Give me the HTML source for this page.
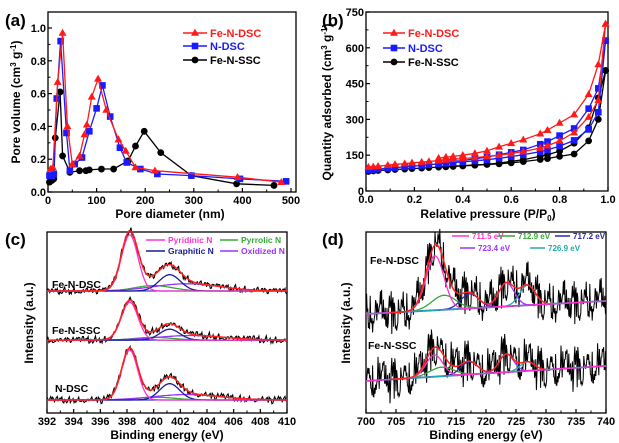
<!DOCTYPE html>
<html><head><meta charset="utf-8">
<style>
html,body{margin:0;padding:0;background:#fff;}
svg{display:block;font-family:"Liberation Sans",sans-serif;font-weight:bold;}
</style></head>
<body>
<svg id="fig" width="619" height="443" viewBox="0 0 619 443"></svg>
<script>
// ---------- Panel (a) data ----------
const aDscX=[5,10,20,30,40,50,65,75,80,90,103,120,145,160,180,220,390,480];
const aDscY=[0.14,0.15,0.67,0.97,0.40,0.17,0.22,0.35,0.41,0.58,0.69,0.50,0.32,0.25,0.15,0.13,0.09,0.06];
const aNX=[3,8,12,18,26,38,45,55,70,85,100,112,128,148,162,190,225,295,395,490];
const aNY=[0.10,0.10,0.11,0.57,0.92,0.36,0.13,0.17,0.21,0.37,0.51,0.65,0.46,0.27,0.18,0.14,0.11,0.10,0.08,0.065];
const aSscX=[3,8,12,15,25,30,45,65,78,85,110,135,165,180,198,232,295,388,465];
const aSscY=[0.06,0.07,0.08,0.33,0.61,0.22,0.12,0.13,0.13,0.135,0.14,0.14,0.19,0.28,0.37,0.24,0.10,0.05,0.04];
const aXTicks=[0,100,200,300,400,500];
const aYTicks=[0,0.2,0.4,0.6,0.8,1.0];
// ---------- Panel (b) data ----------
const bP=[0.01,0.03,0.05,0.09,0.12,0.16,0.19,0.23,0.26,0.30,0.33,0.36,0.40,0.45,0.50,0.55,0.60,0.65,0.72,0.75,0.80,0.86,0.92,0.96,0.99];
const bDscAds=[100,102,104,108,112,115,118,121,124,127,130,133,136,140,145,150,157,165,180,190,210,245,310,380,700];
const bNAds=[88,90,92,95,98,101,104,107,110,113,116,119,122,126,131,137,144,152,165,172,188,212,258,330,630];
const bSscAds=[82,84,86,88,90,92,94,96,98,100,101,103,105,108,111,114,118,123,132,136,145,155,210,300,505];
const bPd=[0.99,0.96,0.92,0.86,0.80,0.75,0.72,0.65,0.60,0.55,0.50,0.45,0.40,0.36,0.33,0.30];
const bDscDes=[700,530,405,320,285,255,240,215,200,185,168,158,150,145,142,138];
const bNDes=[630,430,345,262,232,207,196,172,162,152,142,135,128,124,120,116];
const bSscDes=[505,390,265,200,167,152,146,131,124,117,112,109,106,104,102,101];
const bXTicks=[0,0.2,0.4,0.6,0.8,1.0];
const bYTicks=[0,150,300,450,600,750];
// ---------- Panel (c) data: [center, height, sigma] ----------
const cNames=["Fe-N-DSC","Fe-N-SSC","N-DSC"];
const cBase=[67.4,40.3,7.2];
const cPyridinic=[[398.2,31,0.62],[398.2,21,0.62],[398.2,27.6,0.6]];
const cPyrrolic=[[400.0,3,1.4],[400.0,1.5,1.4],[400.2,1.5,1.4]];
const cGraphitic=[[401.2,9,0.8],[401.2,6,0.75],[401.2,9,0.75]];
const cOxidized=[[402.5,4,2.5],[402.8,2.5,2.5],[402.5,3,2.5]];
const cXTicks=[392,394,396,398,400,402,404,406,408,410];
// ---------- Panel (d) data ----------
const dNames=["Fe-N-DSC","Fe-N-SSC"];
const dBaseL=[54.7,17.7];
const dBaseR=[61.9,26.0];
const d7115=[[711.5,30,1.5],[711.4,12,1.4]];
const d7129=[[713.0,8,2.0],[712.6,5,2.0]];
const d7172=[[717.3,8,1.5],[717.2,7,1.4]];
const d7234=[[723.4,13,1.3],[723.4,10,1.2]];
const d7269=[[726.9,11,1.3],[726.9,5,1.2]];
const dXTicks=[700,705,710,715,720,725,730,735,740];
// fixed noise texture
const noise=[0.3,-0.8,0.9,-0.2,0.5,-1,0.1,0.7,-0.6,0.4,-0.3,1,-0.9,0.2,0.6,-0.5,0.8,-0.1,-0.7,0.35,0.95,-0.45,0.15,-0.85,0.55,-0.25,0.75,-0.65,0.05,0.45,-0.95,0.65,-0.15,0.25,-0.55,0.85,-0.35,0.1,-0.75,0.5,0.2,-0.4,0.9,-0.05,-0.6,0.7,-0.9,0.3,0.0,-0.3,0.6,-0.8,0.4,-0.2,0.95,-0.7,0.15,0.8,-0.5,0.35,-1];

const NS='http://www.w3.org/2000/svg';
const svg=document.getElementById('fig');
function mk(tag,attrs,parent){const e=document.createElementNS(NS,tag);for(const k in attrs)e.setAttribute(k,attrs[k]);(parent||svg).appendChild(e);return e;}
function lin(d0,d1,r0,r1){return v=>r0+(v-d0)*(r1-r0)/(d1-d0);}
function gauss(x,p){return p[1]*Math.exp(-0.5*Math.pow((x-p[0])/p[2],2));}

function frame(g,x0,y0,x1,y1){
  const r=mk('rect',{x:x0,y:y0,width:x1-x0,height:y1-y0,fill:'none',stroke:'#000','stroke-width':1.3},g);
  
  
}
function xAxis(g,ticks,sx,y,fmt,minor){
  ticks.forEach((t,i)=>{
    const X=sx(t);
    mk('line',{x1:X,y1:y,x2:X,y2:y-4,stroke:'#000','stroke-width':1.2},g);
    const tx=mk('text',{x:X,y:y+12,'font-size':11,'text-anchor':'middle'},g);
    tx.textContent=fmt(t);
    
    
    if(minor&&i<ticks.length-1){const m=sx((t+ticks[i+1])/2);mk('line',{x1:m,y1:y,x2:m,y2:y-2.5,stroke:'#000','stroke-width':1},g);}
  });
}
function yAxis(g,ticks,sy,x,fmt){
  ticks.forEach((t,i)=>{
    const Y=sy(t);
    mk('line',{x1:x,y1:Y,x2:x+4,y2:Y,stroke:'#000','stroke-width':1.2},g);
    const tx=mk('text',{x:x-2,y:Y+4,'font-size':11,'text-anchor':'end'},g);
    tx.textContent=fmt(t);
    
    
    if(i<ticks.length-1){const m=sy((t+ticks[i+1])/2);mk('line',{x1:x,y1:m,x2:x+2.5,y2:m,stroke:'#000','stroke-width':1},g);}
  });
}
function label(g,txt,x,y,size,anchor,rot,fill){
  const a={x:x,y:y,'font-size':size,'text-anchor':anchor||'start',fill:fill||'#000'};
  if(rot)a.transform='rotate(-90 '+x+' '+y+')';
  const t=mk('text',a,g);t.textContent=txt;return t;
}
function marker(g,type,X,Y,c){
  if(type==='tri')return mk('polygon',{points:(X)+','+(Y-4.2)+' '+(X-4)+','+(Y+2.8)+' '+(X+4)+','+(Y+2.8),fill:c},g);
  if(type==='sq')return mk('rect',{x:X-3.3,y:Y-3.3,width:6.6,height:6.6,fill:c},g);
  return mk('circle',{cx:X,cy:Y,r:3.4,fill:c},g);
}
function series(g,xs,ys,sx,sy,c,type,name){
  const pts=xs.map((x,i)=>sx(x).toFixed(1)+','+sy(ys[i]).toFixed(1)).join(' ');
  const pl=mk('polyline',{points:pts,fill:'none',stroke:c,'stroke-width':1.3},g);
  
  
  xs.forEach((x,i)=>{
    const m=marker(g,type,sx(x),sy(ys[i]),c);
    
    
  });
}
function legendRow(g,x,y,len,c,type,txt,size,tcol){
  mk('line',{x1:x,y1:y,x2:x+len,y2:y,stroke:c,'stroke-width':1.5},g);
  if(type){marker(g,type,x+len/2,y,c);}
  const t=label(g,txt,x+len+3,y+(size*0.36),size,'start',false,tcol||c);
  
  
}

// ================= Panel (a) =================
(function(){
  const g=mk('g',{});
  
  
  const sx=lin(0,500,48,291), sy=lin(0,1.0,192,28);
  frame(g,48,12,296,192);
  xAxis(g,aXTicks,sx,192,v=>v,true);
  yAxis(g,aYTicks,sy,48,v=>v.toFixed(1));
  series(g,aSscX,aSscY,sx,sy,'#000','circ','fe-n-ssc');
  series(g,aNX,aNY,sx,sy,'#1a1aff','sq','n-dsc');
  series(g,aDscX,aDscY,sx,sy,'#ff1a1a','tri','fe-n-dsc');
  legendRow(g,183,33,24,'#ff1a1a','tri','Fe-N-DSC',11);
  legendRow(g,183,46,24,'#1a1aff','sq','N-DSC',11);
  legendRow(g,183,60,24,'#000','circ','Fe-N-SSC',11);
  let t=label(g,'Pore diameter (nm)',170,218,12,'middle');
  
  t=mk('text',{x:20,y:102,'font-size':12,'text-anchor':'middle',transform:'rotate(-90 20 102)'},g);
  t.innerHTML='Pore volume (cm<tspan dy="-4" font-size="8">3</tspan><tspan dy="4"> g</tspan><tspan dy="-4" font-size="8">-1</tspan><tspan dy="4">)</tspan>';
  
  t=label(g,'(a)',5,26,17,'start');
  
})();

// ================= Panel (b) =================
(function(){
  const g=mk('g',{});
  
  
  const sx=lin(0,1,366,608), sy=lin(0,750,191,12);
  frame(g,366,12,608,191);
  xAxis(g,bXTicks,sx,191,v=>v.toFixed(1),true);
  yAxis(g,bYTicks,sy,366,v=>v);
  series(g,bP,bSscAds,sx,sy,'#000','circ','fe-n-ssc-adsorption');
  series(g,bPd,bSscDes,sx,sy,'#000','circ','fe-n-ssc-desorption');
  series(g,bP,bNAds,sx,sy,'#1a1aff','sq','n-dsc-adsorption');
  series(g,bPd,bNDes,sx,sy,'#1a1aff','sq','n-dsc-desorption');
  series(g,bP,bDscAds,sx,sy,'#ff1a1a','tri','fe-n-dsc-adsorption');
  series(g,bPd,bDscDes,sx,sy,'#ff1a1a','tri','fe-n-dsc-desorption');
  legendRow(g,383,33,22,'#ff1a1a','tri','Fe-N-DSC',11);
  legendRow(g,383,48,22,'#1a1aff','sq','N-DSC',11);
  legendRow(g,383,62,22,'#000','circ','Fe-N-SSC',11);
  let t=mk('text',{x:488,y:218,'font-size':12,'text-anchor':'middle'},g);
  t.innerHTML='Relative pressure (P/P<tspan dy="3" font-size="8">0</tspan><tspan dy="-3">)</tspan>';
  
  t=mk('text',{x:331,y:102,'font-size':12,'text-anchor':'middle',transform:'rotate(-90 331 102)'},g);
  t.innerHTML='Quantity adsorbed (cm<tspan dy="-4" font-size="8">3</tspan><tspan dy="4"> g</tspan><tspan dy="-4" font-size="8">-1</tspan><tspan dy="4">)</tspan>';
  
  t=label(g,'(b)',322,26,17,'start');
  
})();

function pathFrom(xs,fn,sx,sy){return xs.map((x,i)=>(i?'L':'M')+sx(x).toFixed(1)+','+sy(fn(x,i)).toFixed(1)).join('');}

// ================= Panel (c) =================
(function(){
  const g=mk('g',{});
  
  
  const sx=lin(392,410,47,287), sy=lin(0,100,413,232);
  frame(g,47,232,287,413);
  xAxis(g,cXTicks,sx,413,v=>v,true);
  const xs=[];for(let x=392;x<=410.001;x+=0.07)xs.push(x);
  cNames.forEach((nm,k)=>{
    const b=cBase[k];
    const comps=[[cPyrrolic[k],'#33aa33'],[cOxidized[k],'#9933ff'],[cGraphitic[k],'#1a1a99'],[cPyridinic[k],'#ff33cc']];
    const tot=x=>b+gauss(x,cPyridinic[k])+gauss(x,cPyrrolic[k])+gauss(x,cGraphitic[k])+gauss(x,cOxidized[k]);
    let p=mk('path',{d:pathFrom(xs,(x,i)=>tot(x)+1.6*noise[(i*7+k*13)%noise.length]*(1+0.4*noise[(i*3+k)%noise.length]),sx,sy),fill:'none',stroke:'#000','stroke-width':1.1},g);
    
    p=mk('path',{d:pathFrom(xs,()=>b,sx,sy),fill:'none',stroke:'#3344cc','stroke-width':1.3},g);
    
    comps.forEach(c=>{
      p=mk('path',{d:pathFrom(xs,x=>b+gauss(x,c[0]),sx,sy),fill:'none',stroke:c[1],'stroke-width':1.3},g);
      
    });
    p=mk('path',{d:pathFrom(xs,tot,sx,sy),fill:'none',stroke:'#ff2020','stroke-width':1.5},g);
    
  });
  let t=label(g,'Fe-N-DSC',52,288,10.5,'start');
  t=label(g,'Fe-N-SSC',52,334,10.5,'start');
  t=label(g,'N-DSC',55,392,10.5,'start');
  legendRow(g,146,240,19,'#ff33cc',null,'Pyridinic N',8.5);
  legendRow(g,220,240,18,'#33aa33',null,'Pyrrolic N',8.5);
  legendRow(g,146,251,19,'#1a1a99',null,'Graphitic N',8.5);
  legendRow(g,220,251,18,'#9933ff',null,'Oxidized N',8.5);
  t=label(g,'Binding energy (eV)',167,439,12,'middle');
  
  t=label(g,'Intensity (a.u.)',33,323,12,'middle',true);
  
  t=label(g,'(c)',5,245,17,'start');
  
})();

// ================= Panel (d) =================
(function(){
  const g=mk('g',{});
  
  
  const sx=lin(700,740,366,606), sy=lin(0,100,413,232);
  frame(g,366,232,606,413);
  xAxis(g,dXTicks,sx,413,v=>v,true);
  const xs=[];for(let x=700;x<=740.001;x+=0.1)xs.push(x);
  dNames.forEach((nm,k)=>{
    const base=x=>dBaseL[k]+(dBaseR[k]-dBaseL[k])*(x-700)/40;
    const comps=[[d7129[k],'#33aa33'],[d7172[k],'#2a2aaa'],[d7234[k],'#9933ff'],[d7269[k],'#22aaaa'],[d7115[k],'#ff33cc']];
    const tot=x=>base(x)+gauss(x,d7115[k])+gauss(x,d7129[k])+gauss(x,d7172[k])+gauss(x,d7234[k])+gauss(x,d7269[k]);
    let p=mk('path',{d:pathFrom(xs,(x,i)=>tot(x)+11*noise[(i*11+k*17)%noise.length]*(0.6+0.7*Math.abs(noise[(i*5+3)%noise.length])),sx,sy),fill:'none',stroke:'#000','stroke-width':1},g);
    
    p=mk('path',{d:pathFrom(xs,base,sx,sy),fill:'none',stroke:'#3355bb','stroke-width':1.8},g);
    
    comps.forEach(c=>{
      p=mk('path',{d:pathFrom(xs,x=>base(x)+gauss(x,c[0]),sx,sy),fill:'none',stroke:c[1],'stroke-width':1.3},g);
      
    });
    p=mk('path',{d:pathFrom(xs.filter(x=>x>=704&&x<=730),tot,sx,sy),fill:'none',stroke:'#ff2020','stroke-width':1.5},g);
    
  });
  let t=label(g,'Fe-N-DSC',370,264,10.5,'start');
  t=label(g,'Fe-N-SSC',368,349,10.5,'start');
  legendRow(g,452,236,17,'#ff33cc',null,'711.5 eV',8);
  legendRow(g,498,236,17,'#33aa33',null,'712.9 eV',8);
  legendRow(g,555,236,15,'#2a2aaa',null,'717.2 eV',8);
  legendRow(g,460,248,15,'#9933ff',null,'723.4 eV',8);
  legendRow(g,530,248,15,'#22aaaa',null,'726.9 eV',8);
  t=label(g,'Binding energy (eV)',486,439,12,'middle');
  
  t=label(g,'Intensity (a.u.)',350,323,12,'middle',true);
  
  t=label(g,'(d)',322,245,17,'start');
  
})();
</script>
</body></html>
